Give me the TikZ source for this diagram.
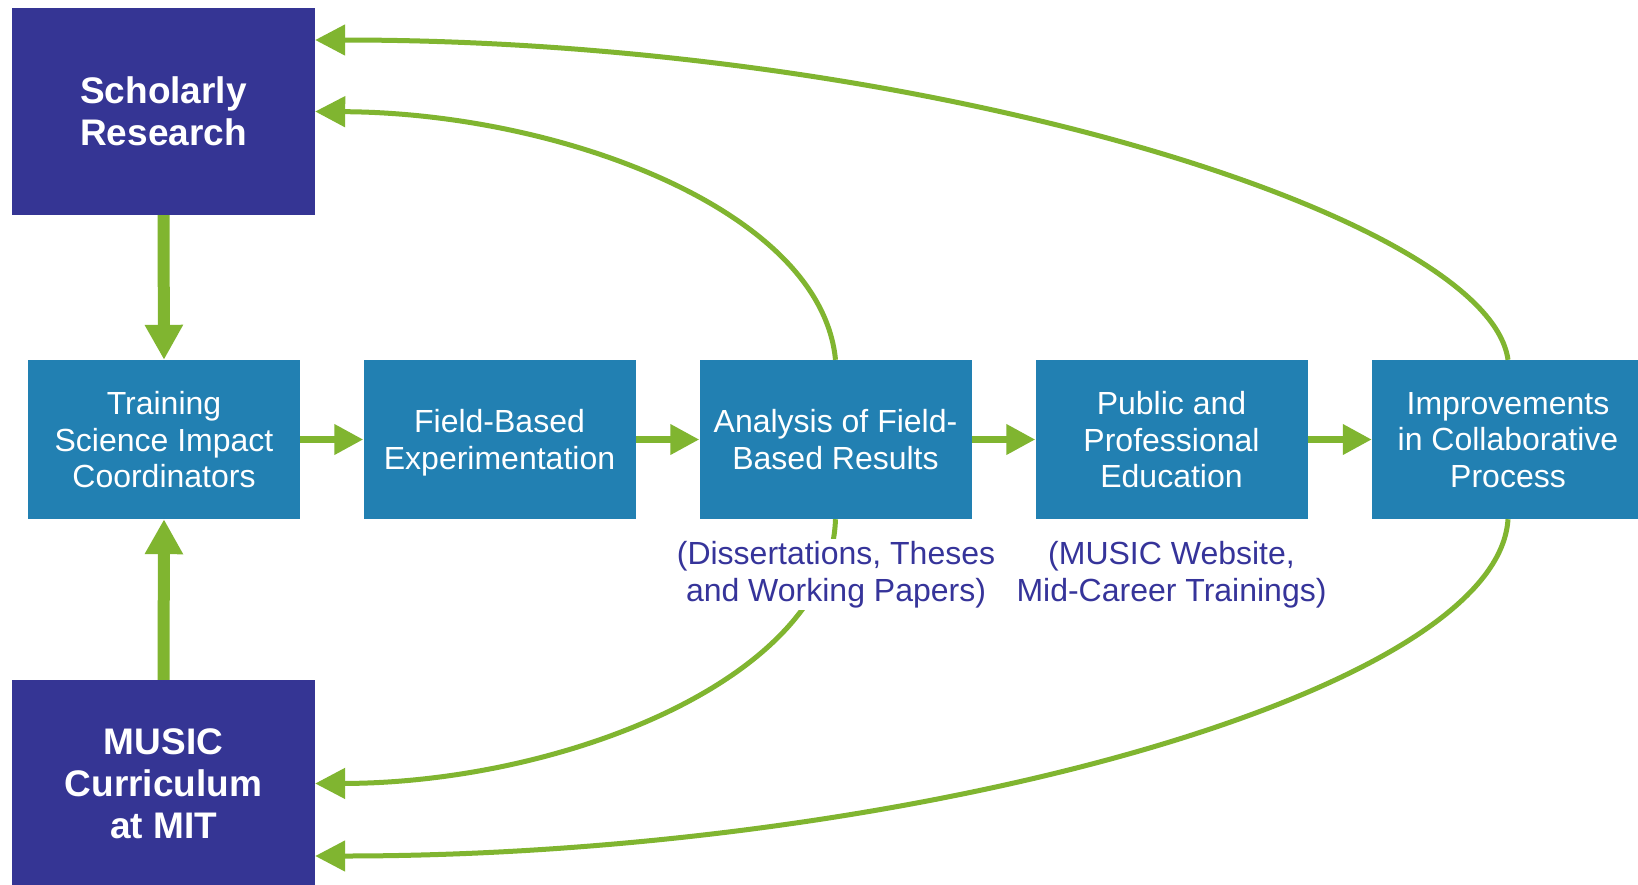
\documentclass[tikz,border=0pt]{standalone}
\usepackage{fontspec}
\setmainfont{Liberation Sans}
\usetikzlibrary{arrows.meta,calc}
\definecolor{navy}{HTML}{353594}
\definecolor{boxblue}{HTML}{2280B2}
\definecolor{lgreen}{HTML}{80B530}
\definecolor{labelblue}{HTML}{36349A}
\begin{document}
\begin{tikzpicture}[x=1pt,y=-1pt,
  navybox/.style={fill=navy, text=white, minimum width=303pt, minimum height=207pt, align=center, font=\fontsize{37}{42}\selectfont\bfseries, inner sep=0pt},
  bluebox/.style={fill=boxblue, text=white, minimum width=272pt, minimum height=159pt, align=center, font=\fontsize{32}{36.5}\selectfont, inner sep=0pt, text depth=0pt},
  flow/.style={draw=lgreen, line width=7pt, -{Triangle[length=29pt,width=29pt]}},
  vflow/.style={draw=lgreen, line width=12pt, -{Triangle[length=35pt,width=36pt]}},
  loopline/.style={draw=lgreen, line width=5pt, -{Triangle[length=30pt,width=30pt]}},
  note/.style={fill=white, text=labelblue, align=center, font=\fontsize{32}{37}\selectfont, inner sep=2pt}
]
\useasboundingbox (0,0) rectangle (1638,884);
\fill[white] (0,0) rectangle (1638,884);

\node[navybox] (schol) at (163.5,111.5) {Scholarly\\Research};
\node[navybox] (music) at (163.5,783.5) {MUSIC\\Curriculum\\at MIT};
\node[bluebox] (train) at (164,439.5) {Training\\Science Impact\\Coordinators};
\node[bluebox] (field) at (499.5,439.5) {Field-Based\\Experimentation};
\node[bluebox] (ana) at (835.5,439.5) {Analysis of Field-\\Based Results};
\node[bluebox] (pub) at (1171.5,439.5) {Public and\\Professional\\Education};
\node[bluebox] (imp) at (1508,439.5) {Improvements\\in Collaborative\\Process};

\draw[vflow] (schol.south) -- (train.north);
\draw[vflow] (music.north) -- (train.south);
\draw[flow] (train.east) -- (field.west);
\draw[flow] (field.east) -- (ana.west);
\draw[flow] (ana.east) -- (pub.west);
\draw[flow] (pub.east) -- (imp.west);

\draw[loopline] (ana.north) .. controls (821,210) and (560,113) .. (schol.east);
\draw[loopline] (imp.north) .. controls (1488,215) and (920,40) .. ($(schol.east)+(0,-71.5)$);
\draw[loopline] (ana.south) .. controls (830,680) and (560,783) .. (music.east);
\draw[loopline] (imp.south) .. controls (1497,695) and (900,856) .. ($(music.east)+(0,72.5)$);

\node[note] (lab1) at (836,574.5) {(Dissertations, Theses\\and Working Papers)};
\node[note] (lab2) at (1171.5,574.5) {(MUSIC Website,\\Mid-Career Trainings)};
\end{tikzpicture}
\end{document}
